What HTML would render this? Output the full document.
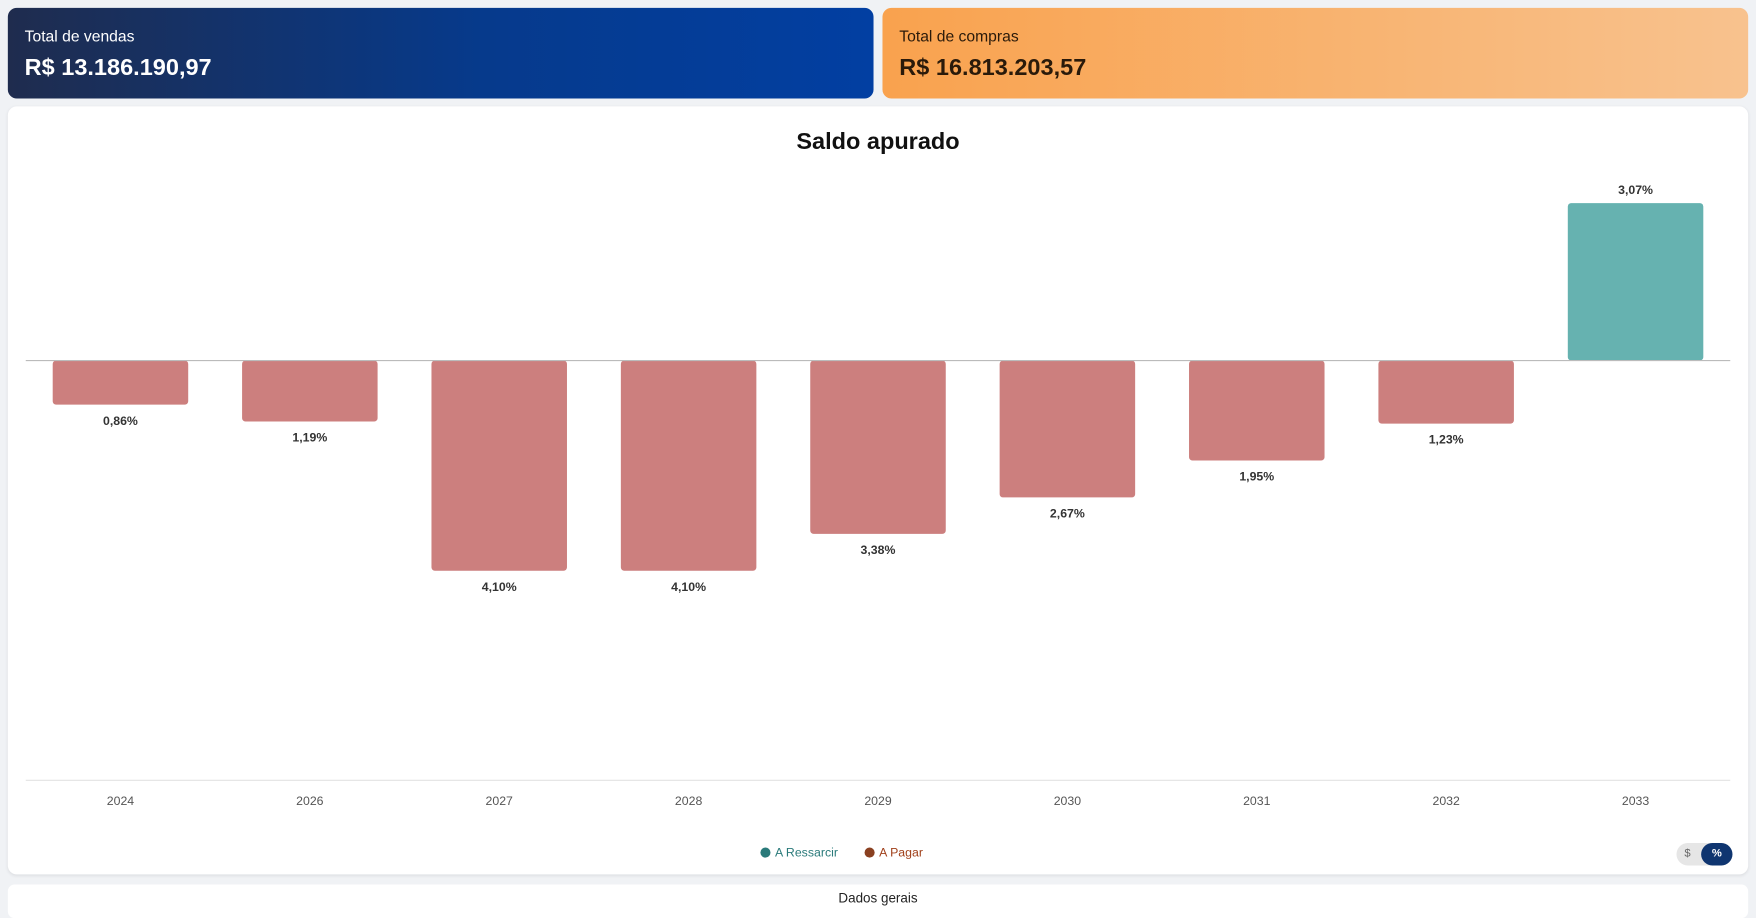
<!DOCTYPE html>
<html><head><meta charset="utf-8"><style>
html,body{margin:0;padding:0;width:1756px;height:908px;overflow:hidden;background:#f0f2f5;font-family:"Liberation Sans",sans-serif}
#wrap{position:absolute;left:0;top:0;width:1568px;height:811px;transform:scale(1.11990,1.11960);transform-origin:0 0}
.card{position:absolute;border-radius:8px;color:#fff}
.lbl{position:absolute;left:15px;top:17px;font-size:14px}
.val{position:absolute;left:15px;top:42px;font-size:21px;font-weight:bold}
</style></head><body>
<div id="wrap">
<div class="card" style="left:7px;top:7px;width:773px;height:81px;background:linear-gradient(90deg,#1f2c4e,#063a8c 55%,#023fa2)">
<div class="lbl">Total de vendas</div>
<div class="val">R$ 13.186.190,97</div></div>
<div class="card" style="left:788px;top:7px;width:773px;height:81px;background:linear-gradient(90deg,#f9a24e,#f8c28e);color:#2a1a0a">
<div class="lbl">Total de compras</div>
<div class="val">R$ 16.813.203,57</div></div>
<div style="position:absolute;left:7px;top:95px;width:1554px;height:686px;background:#fff;border-radius:8px;box-shadow:0 1px 3px rgba(0,0,0,.08)"></div>
<svg id="chart" width="1568" height="811" style="position:absolute;left:0;top:0" font-family="Liberation Sans, sans-serif"></svg>
<div style="position:absolute;left:679px;top:756px;font-size:11px;color:#2a7a7a"><span style="display:inline-block;width:9px;height:9px;border-radius:50%;background:#2a7a7a;margin-right:4px;vertical-align:-1px"></span>A Ressarcir</div>
<div style="position:absolute;left:772px;top:756px;font-size:11px;color:#a0401a"><span style="display:inline-block;width:9px;height:9px;border-radius:50%;background:#8a4020;margin-right:4px;vertical-align:-1px"></span>A Pagar</div>
<div style="position:absolute;left:1497px;top:753px;width:50px;height:20px;border-radius:10px;background:#e6e6e6">
<span style="position:absolute;left:7px;top:4px;font-size:10px;color:#666">$</span>
<span style="position:absolute;right:0;top:0;width:28px;height:20px;border-radius:10px;background:#0f3570;color:#fff;font-size:10px;font-weight:bold;text-align:center;line-height:20px">%</span></div>
<div style="position:absolute;left:7px;top:790px;width:1554px;height:30px;background:#fff;border-radius:6px;text-align:center;font-size:12px;color:#222;padding-top:5px;box-sizing:border-box">Dados gerais</div>
</div>
<script>
const categories=["2024","2026","2027","2028","2029","2030","2031","2032","2033"];
const values=[-0.86,-1.19,-4.10,-4.10,-3.38,-2.67,-1.95,-1.23,3.07];
const labels=["0,86%","1,19%","4,10%","4,10%","3,38%","2,67%","1,95%","1,23%","3,07%"];
const svg=document.getElementById('chart');const NS='http://www.w3.org/2000/svg';
const x0=23,x1=1545,zeroY=322,pxPer=45.8,band=(x1-x0)/categories.length,bw=121;
const xc=i=>x0+band*(i+0.5);const y=v=>zeroY-v*pxPer;
function el(t,a){const e=document.createElementNS(NS,t);for(const k in a)e.setAttribute(k,a[k]);svg.appendChild(e);return e;}
const title=el('text',{x:784,y:133,'text-anchor':'middle','font-size':21,'font-weight':'bold',fill:'#111'});title.textContent='Saldo apurado';


const ax=el('line',{x1:x0,x2:x1,y1:697,y2:697,stroke:'#e3e3e3'});


values.forEach((v,i)=>{
 const top=Math.min(y(v),zeroY),h=Math.abs(y(v)-zeroY);
 const r=el('rect',{x:xc(i)-bw/2,y:top,width:bw,height:h,rx:3,fill:v<0?'#cc7f7e':'#66b2b0'});
 
 
 const t=el('text',{x:xc(i),y:v<0?y(v)+18:y(v)-8,'text-anchor':'middle','font-size':11,'font-weight':'bold',fill:'#333'});t.textContent=labels[i];
 
 
 const c=el('text',{x:xc(i),y:719,'text-anchor':'middle','font-size':11,fill:'#555'});c.textContent=categories[i];
 
 
});
const z=el('line',{x1:x0,x2:x1,y1:zeroY,y2:zeroY,stroke:'#bbb'});


</script>
</body></html>
